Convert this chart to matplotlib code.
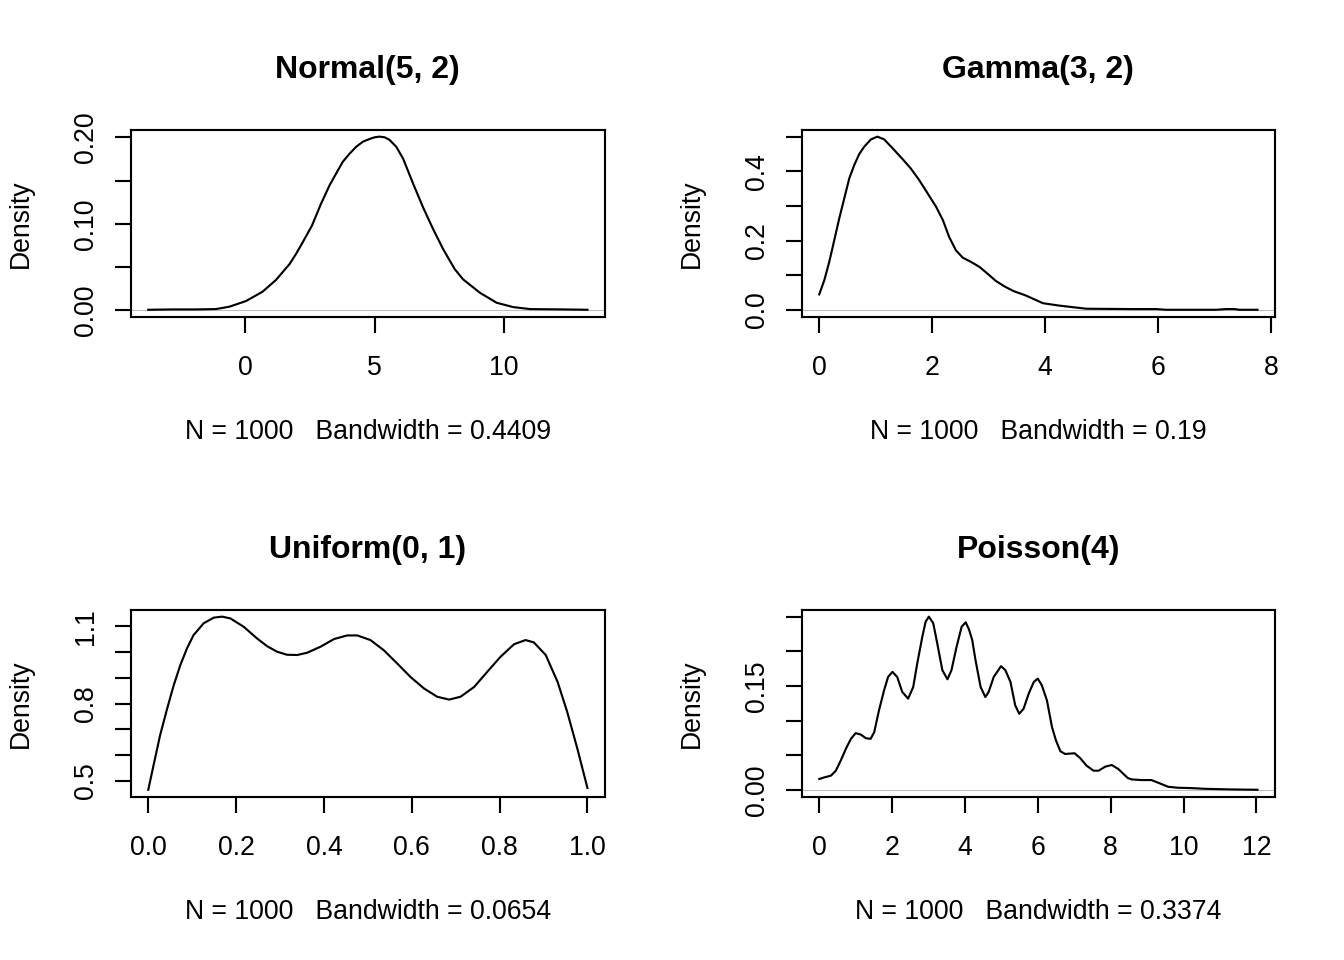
import matplotlib
matplotlib.use('Agg')
import matplotlib.pyplot as plt

plt.rcParams['font.family'] = ['Liberation Sans', 'DejaVu Sans']

# ---------------- data ----------------
titles = ["Normal(5, 2)", "Gamma(3, 2)", "Uniform(0, 1)", "Poisson(4)"]
xlabels = ["N = 1000   Bandwidth = 0.4409", "N = 1000   Bandwidth = 0.19",
           "N = 1000   Bandwidth = 0.0654", "N = 1000   Bandwidth = 0.3374"]

norm_x = [-3.75, -2.82, -1.91, -1.14, -0.62, 0.03, 0.67, 1.19, 1.71, 1.96, 2.22,
          2.58, 2.93, 3.26, 3.51, 3.77, 4.03, 4.29, 4.55, 4.81, 5.0, 5.19, 5.39,
          5.58, 5.84, 6.10, 6.49, 6.87, 7.26, 7.65, 8.10, 8.42, 9.07, 9.72, 10.36,
          11.01, 12.30, 13.23]
norm_y = [0.0008, 0.0012, 0.0012, 0.0016, 0.0043, 0.0109, 0.0217, 0.0353, 0.0535,
          0.0651, 0.0787, 0.0981, 0.1233, 0.1446, 0.1580, 0.1717, 0.1810, 0.1891,
          0.1950, 0.1981, 0.2000, 0.2008, 0.2000, 0.1970, 0.1890, 0.1756, 0.1465,
          0.1194, 0.0942, 0.0709, 0.0477, 0.0360, 0.0205, 0.0089, 0.0039, 0.0016,
          0.0012, 0.0008]

gamma_x = [0.0, 0.089, 0.177, 0.266, 0.354, 0.443, 0.532, 0.62, 0.709, 0.797,
           0.916, 1.03, 1.15, 1.30, 1.48, 1.62, 1.77, 1.92, 2.07, 2.19, 2.30,
           2.42, 2.54, 2.69, 2.84, 2.98, 3.13, 3.28, 3.44, 3.66, 3.96, 4.25,
           4.73, 5.55, 5.97, 6.14, 7.03, 7.20, 7.35, 7.44, 7.76]
gamma_y = [0.0453, 0.0857, 0.1387, 0.2013, 0.2640, 0.3218, 0.3796, 0.418, 0.450,
           0.471, 0.492, 0.500, 0.492, 0.4663, 0.4345, 0.4085, 0.3748, 0.3363,
           0.2977, 0.2592, 0.2110, 0.1725, 0.1513, 0.1387, 0.1243, 0.1050,
           0.0838, 0.0684, 0.0549, 0.042, 0.020, 0.013, 0.004, 0.003, 0.003,
           0.001, 0.001, 0.003, 0.003, 0.001, 0.001]

unif_x = [0.0, 0.012, 0.027, 0.043, 0.058, 0.073, 0.088, 0.103, 0.126, 0.149, 0.168,
          0.187, 0.217, 0.248, 0.270, 0.293, 0.316, 0.339, 0.362, 0.392, 0.423,
          0.453, 0.476, 0.506, 0.536, 0.567, 0.597, 0.628, 0.658, 0.685, 0.711,
          0.742, 0.772, 0.802, 0.833, 0.859, 0.878, 0.905, 0.932, 0.954, 0.977, 1.0]
unif_y = [0.466, 0.561, 0.678, 0.781, 0.872, 0.950, 1.014, 1.066, 1.112, 1.134,
          1.138, 1.131, 1.099, 1.053, 1.024, 1.002, 0.990, 0.989, 0.998, 1.021,
          1.051, 1.065, 1.065, 1.047, 1.008, 0.956, 0.904, 0.859, 0.827, 0.816,
          0.827, 0.865, 0.924, 0.982, 1.031, 1.047, 1.038, 0.989, 0.885, 0.768,
          0.626, 0.473]

pois_x = [0.0, 0.137, 0.32, 0.456, 0.59, 0.73, 0.87, 1.00, 1.14, 1.28, 1.41, 1.51,
          1.64, 1.78, 1.89, 2.01, 2.14, 2.28, 2.44, 2.58, 2.69, 2.83, 2.92, 3.01,
          3.13, 3.24, 3.38, 3.52, 3.63, 3.77, 3.91, 4.02, 4.11, 4.20, 4.29, 4.43,
          4.56, 4.65, 4.79, 4.99, 5.11, 5.25, 5.38, 5.49, 5.61, 5.75, 5.89, 6.00,
          6.11, 6.25, 6.39, 6.50, 6.62, 6.75, 7.01, 7.16, 7.34, 7.53, 7.67, 7.85,
          8.03, 8.21, 8.47, 8.58, 8.85, 9.12, 9.35, 9.58, 9.85, 10.22, 10.58,
          11.31, 12.03]
pois_y = [0.0160, 0.0183, 0.0208, 0.0280, 0.0425, 0.0594, 0.0739, 0.0821, 0.0801,
          0.0748, 0.0739, 0.0835, 0.1149, 0.1438, 0.1631, 0.1704, 0.1631, 0.1414,
          0.1318, 0.1486, 0.1824, 0.2210, 0.2427, 0.2500, 0.2404, 0.2114, 0.1728,
          0.1597, 0.1728, 0.2065, 0.2355, 0.2418, 0.2317, 0.2162, 0.1873, 0.1486,
          0.1341, 0.1414, 0.1631, 0.1786, 0.1728, 0.1559, 0.1221, 0.1100, 0.1173,
          0.1390, 0.1559, 0.1607, 0.1511, 0.1294, 0.0907, 0.0714, 0.0560, 0.0521,
          0.0531, 0.0463, 0.0352, 0.0280, 0.0280, 0.0338, 0.0362, 0.0304, 0.0174,
          0.0154, 0.0145, 0.0145, 0.0097, 0.0048, 0.0034, 0.0029, 0.0019, 0.0010,
          0.0005]

xticks = [[0, 5, 10], [0, 2, 4, 6, 8], [0.0, 0.2, 0.4, 0.6, 0.8, 1.0],
          [0, 2, 4, 6, 8, 10, 12]]
xticklabels = [["0", "5", "10"], ["0", "2", "4", "6", "8"],
               ["0.0", "0.2", "0.4", "0.6", "0.8", "1.0"],
               ["0", "2", "4", "6", "8", "10", "12"]]
yticks = [[0.0, 0.05, 0.10, 0.15, 0.20], [0.0, 0.1, 0.2, 0.3, 0.4, 0.5],
          [0.5, 0.6, 0.7, 0.8, 0.9, 1.0, 1.1], [0.0, 0.05, 0.10, 0.15, 0.20, 0.25]]
yticklabels = [["0.00", "", "0.10", "", "0.20"], ["0.0", "", "0.2", "", "0.4", ""],
               ["0.5", "", "", "0.8", "", "", "1.1"], ["0.00", "", "", "0.15", "", ""]]

series = [(norm_x, norm_y), (gamma_x, gamma_y), (unif_x, unif_y), (pois_x, pois_y)]

# ---------------- layout ----------------
W, H = 1344, 960
boxes = [(130.7, 129.7, 605, 316.7), (801.7, 129.7, 1275, 316.7),
         (130.7, 609.7, 605, 796.7), (801.7, 609.7, 1275, 796.7)]

fig = plt.figure(figsize=(7, 5), dpi=192)
fig.patch.set_facecolor('white')

for i, (l, t, r, b) in enumerate(boxes):
    ax = fig.add_axes([l / W, 1 - b / H, (r - l) / W, (b - t) / H])
    x, y = series[i]
    ax.axhline(0, color='#BEBEBE', lw=0.4, zorder=1)
    ax.plot(x, y, color='black', lw=0.8, zorder=2, solid_joinstyle='round')
    xs = max(x) - min(x)
    ys = max(y) - min(y)
    ax.set_xlim(min(x) - 0.04 * xs, max(x) + 0.04 * xs)
    ax.set_ylim(min(y) - 0.04 * ys, max(y) + 0.04 * ys)
    ax.set_xticks(xticks[i])
    ax.set_xticklabels(xticklabels[i])
    ax.set_yticks(yticks[i])
    ax.set_yticklabels(yticklabels[i], rotation=90, va='center')
    ax.tick_params(axis='both', direction='out', length=6, width=0.8,
                   labelsize=10, colors='black')
    ax.tick_params(axis='x', pad=8.4)
    ax.tick_params(axis='y', pad=6)
    for s in ax.spines.values():
        s.set_linewidth(0.8)
        s.set_color('black')
    ax.text(0.5, 1.319, titles[i], transform=ax.transAxes, ha='center',
            va='center', fontsize=12, fontweight='bold')
    ax.text(0.5, -0.617, xlabels[i], transform=ax.transAxes, ha='center',
            va='center', fontsize=10)
    ax.text(-0.232, 0.5, "Density", transform=ax.transAxes, ha='center',
            va='center', rotation=90, fontsize=10)

fig.savefig('out.png', dpi=192, facecolor='white')
